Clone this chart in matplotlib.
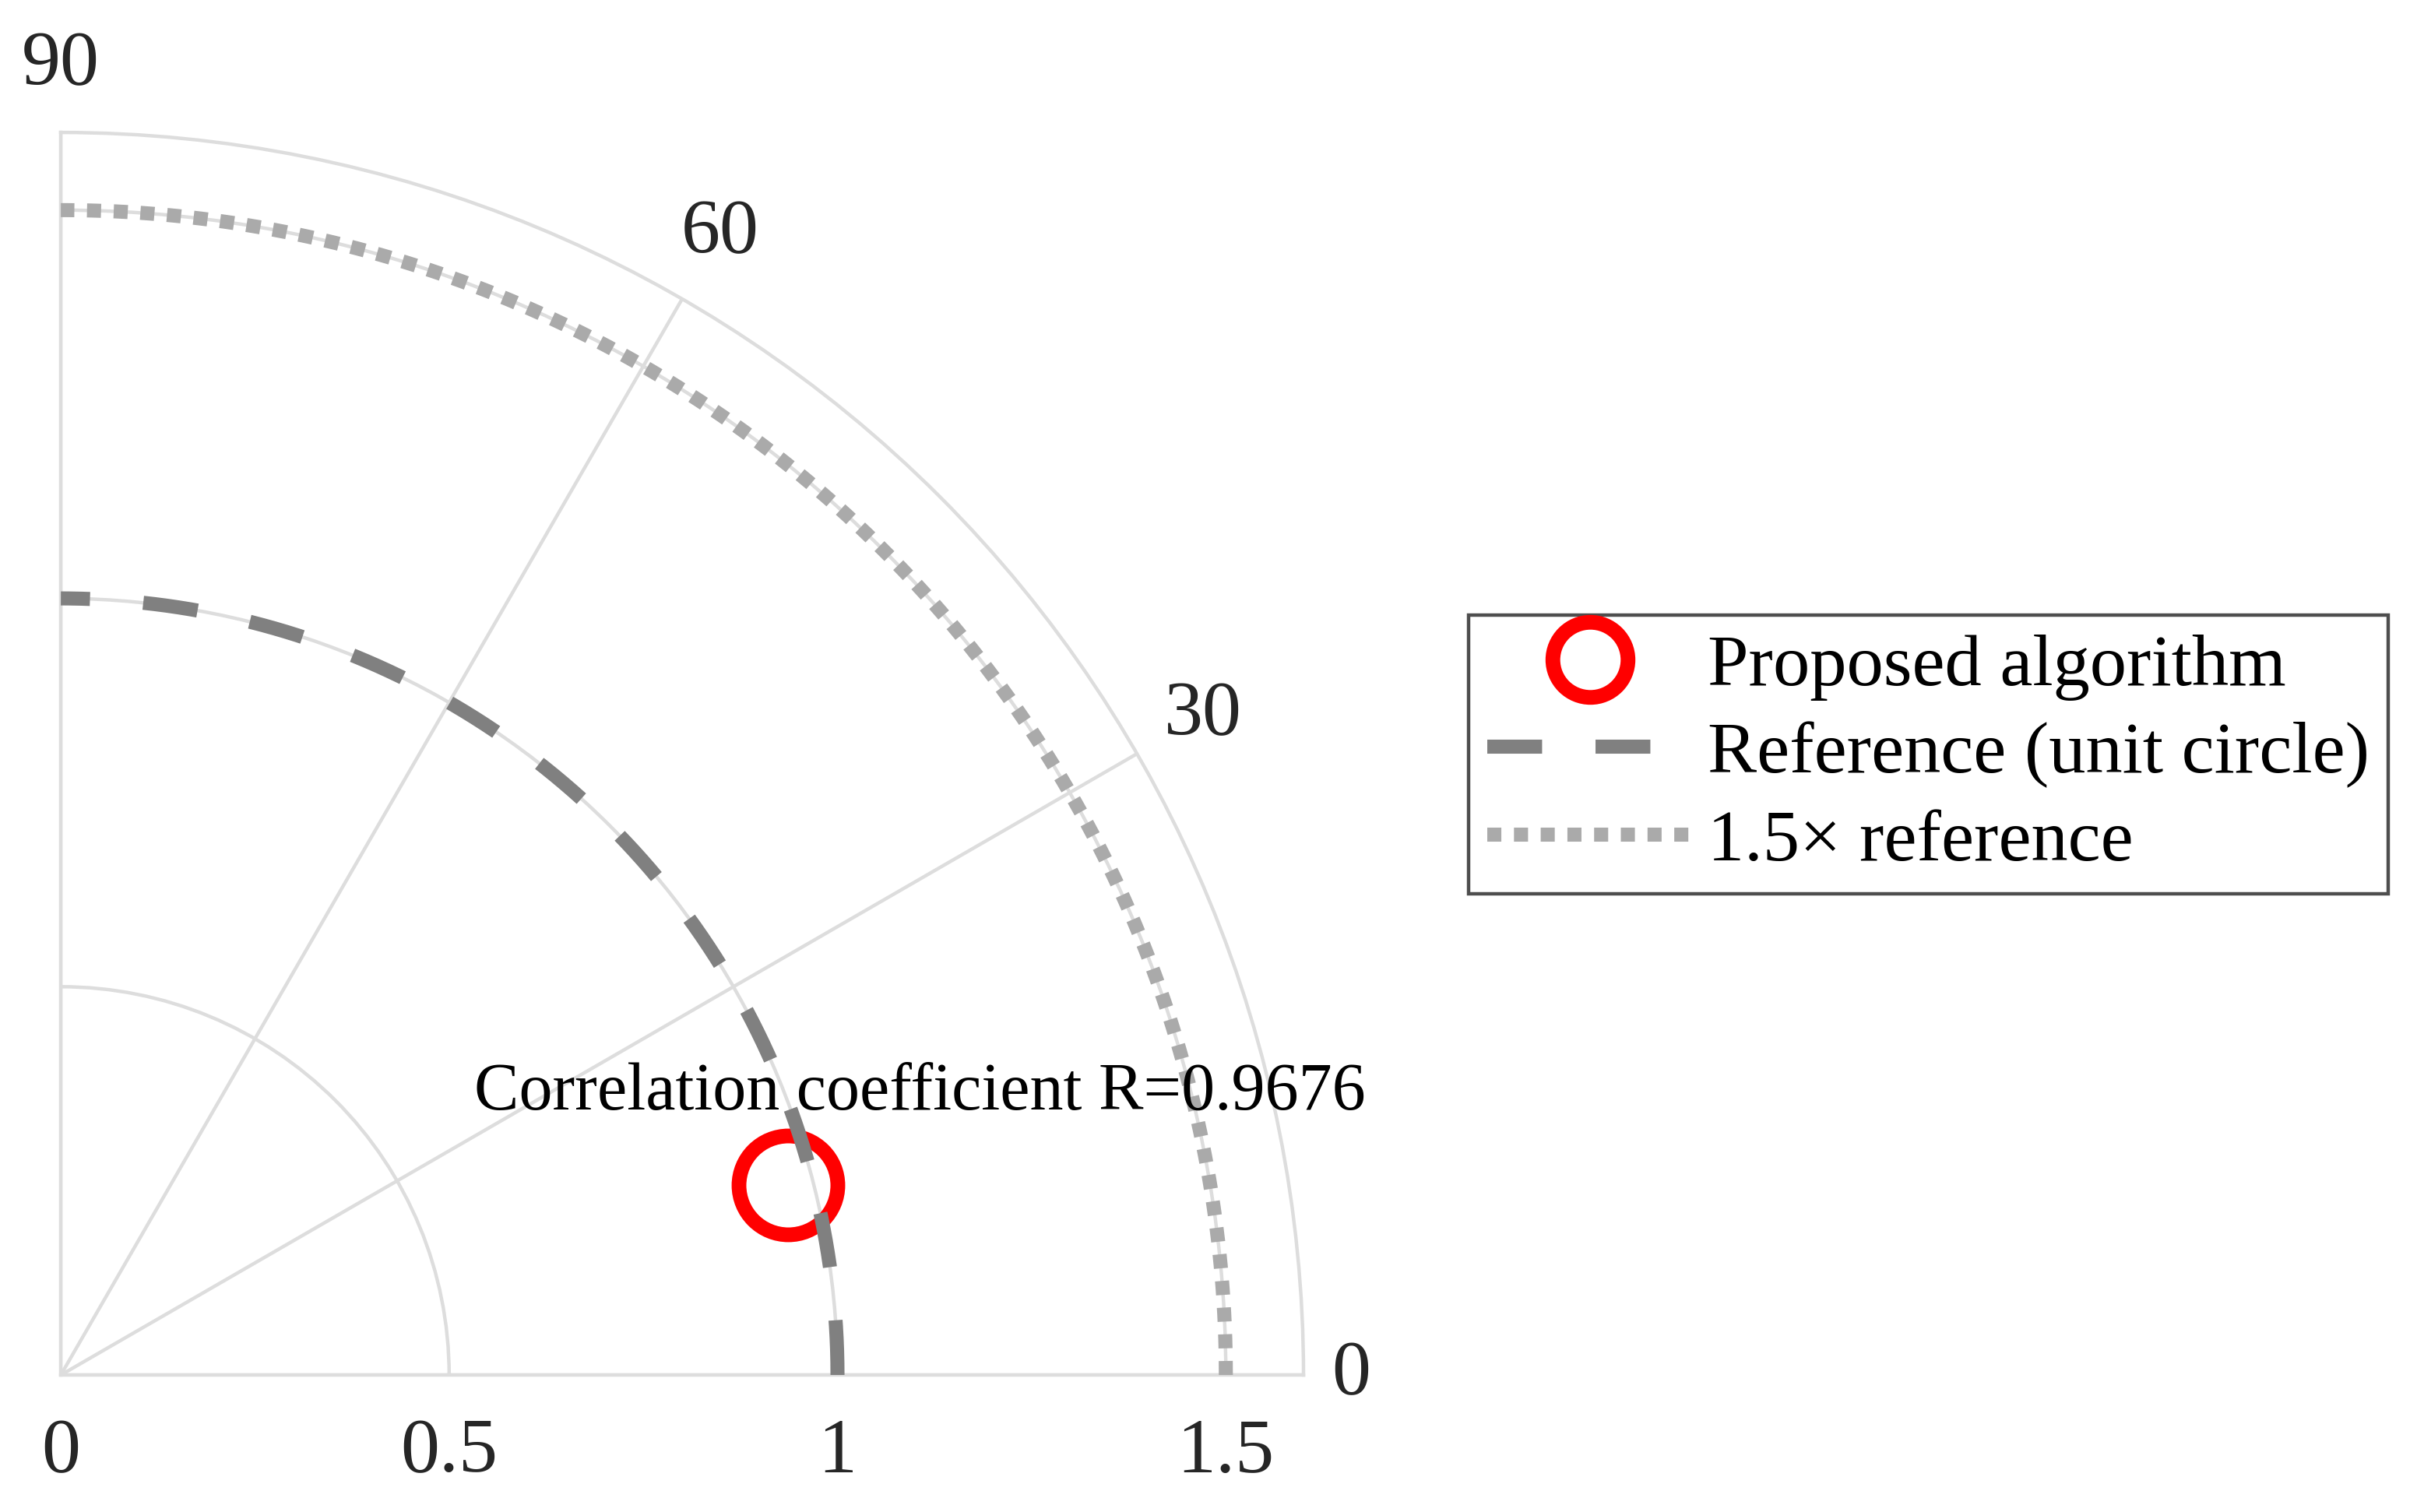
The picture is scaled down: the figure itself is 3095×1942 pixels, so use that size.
import numpy as np
import matplotlib
matplotlib.use("Agg")
import matplotlib.pyplot as plt

plt.rcParams['font.family'] = ['Liberation Serif', 'DejaVu Serif']

# values
corr_coef = 0.9676
std_ratio = 0.968
ref_radius = 1.0
outer_ref_radius = 1.5
r_max = 1.6
r_ticks = [0, 0.5, 1, 1.5]
r_tick_labels = ['0', '0.5', '1', '1.5']
theta_ticks = [0, 30, 60, 90]
theta_tick_labels = ['0', '30', '60', '90']
label_point = 'Proposed algorithm'
label_ref = 'Reference (unit circle)'
label_outer = '1.5\u00d7 reference'

arc = np.linspace(0, np.pi / 2, 300)
theta_pt = np.arccos(corr_coef)

fig = plt.figure(figsize=(15.475, 9.71), dpi=200)
ax = fig.add_axes([0.0252, 0.0906, 0.5157, 0.8218], projection='polar')
ax.set_thetamin(0)
ax.set_thetamax(90)
ax.set_ylim(0, r_max)

# grid and frame
ax.set_thetagrids(theta_ticks, theta_tick_labels)
ax.set_rgrids(r_ticks, r_tick_labels)
ax.set_rlabel_position(0)
ax.grid(True, color='#dddddd', lw=1.6)
for sp in ax.spines.values():
    sp.set_color('#dddddd')
    sp.set_linewidth(1.6)
ax.tick_params(axis='x', pad=28, labelsize=36, labelcolor='#262626', length=0)
ax.tick_params(axis='y', pad=20, labelsize=36, labelcolor='#262626', length=0)
# the "0" and "90" labels sit a bit closer to the frame
ticks = ax.xaxis.get_major_ticks()
ticks[0].set_pad(15)
ticks[-1].set_pad(24)

# proposed point
ax.plot([theta_pt], [std_ratio], 'o', ms=45.7, mfc='none', mec='#ff0000',
        mew=6.8, zorder=3, label=label_point)
# reference arcs
ax.plot(arc, np.full_like(arc, ref_radius), color='#808080', lw=6.5,
        dashes=(3.9, 3.8), zorder=4, label=label_ref)
ax.plot(arc, np.full_like(arc, outer_ref_radius), color='#aaaaaa', lw=6.5,
        dashes=(1.0, 0.9), zorder=4, label=label_outer)

ax.annotate('Correlation coefficient R=%.4f' % corr_coef,
            xy=(theta_pt, std_ratio), xytext=(61, 35), textcoords='offset points',
            ha='center', va='baseline', fontsize=31, color='black', zorder=5)

leg = fig.legend(loc='upper left', bbox_to_anchor=(0.6094, 0.5932),
                 bbox_transform=fig.transFigure, borderaxespad=0,
                 fontsize=34, frameon=True, fancybox=False, markerscale=0.76,
                 handlelength=2.8, handletextpad=0.2, labelspacing=0.28,
                 borderpad=0.25)
leg.get_frame().set_edgecolor('#222222')
leg.get_frame().set_linewidth(1.6)

fig.savefig('out.png', dpi=200)
